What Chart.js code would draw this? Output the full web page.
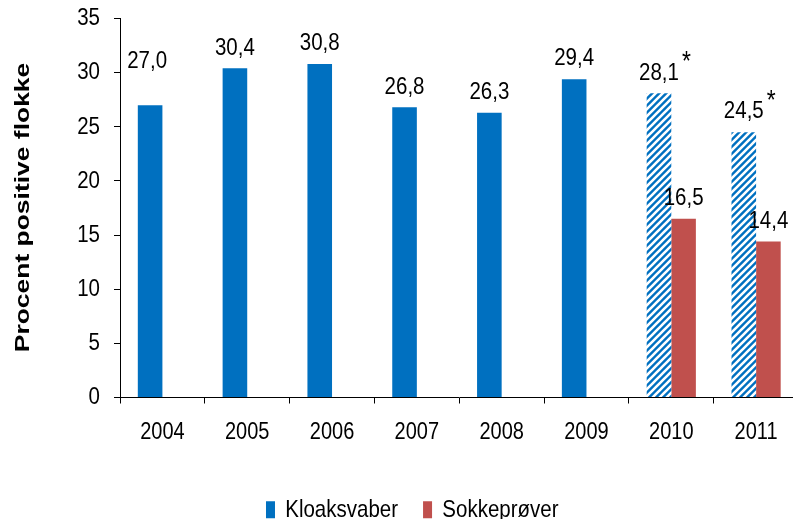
<!DOCTYPE html>
<html><head><meta charset="utf-8">
<script src="https://cdn.jsdelivr.net/npm/chart.js@4"></script>
<style>
html,body{margin:0;padding:0;background:#fff;overflow:hidden;}
#wrap{position:relative;width:793px;height:519px;overflow:hidden;background:#fff;}
canvas{position:absolute;left:0;top:0;}
</style></head><body>
<div id="wrap"><canvas id="c" width="825" height="540"></canvas></div>
<script>
const years = ['2004','2005','2006','2007','2008','2009','2010','2011'];
const kloaksvaber = [27.0, 30.4, 30.8, 26.8, 26.3, 29.4, 28.1, 24.5];
const sokkeprover = [null, null, null, null, null, null, 16.5, 14.4];
const kloakNotes = ['', '', '', '', '', '', '*', '*'];
const seriesNames = ['Kloaksvaber', 'Sokkeprøver'];
const yTitle = 'Procent positive flokke';
const yMin = 0, yMax = 35, yStep = 5;

const FONT = '"Liberation Sans", Arial, sans-serif';
const BLUE = '#0070C0', RED = '#C0504D';
const STRETCH = 1.2;   // reference text is drawn taller than wide

function makeHatch(){
  const s = 7, c = document.createElement('canvas');
  c.width = c.height = s;
  const g = c.getContext('2d');
  g.fillStyle = BLUE; g.fillRect(0,0,s,s);
  g.strokeStyle = '#fff'; g.lineWidth = 2.6;
  g.beginPath();
  g.moveTo(-2,2); g.lineTo(2,-2);
  g.moveTo(0,s); g.lineTo(s,0);
  g.moveTo(s-2,s+2); g.lineTo(s+2,s-2);
  g.stroke();
  return g.createPattern(c,'repeat');
}
const hatch = makeHatch();

const valueLabels = {
  id: 'valueLabels',
  afterDatasetsDraw(chart){
    const ctx = chart.ctx;
    ctx.save();
    ctx.fillStyle = '#000';
    ctx.textBaseline = 'middle';
    chart.data.datasets.forEach((ds, di) => {
      const meta = chart.getDatasetMeta(di);
      meta.data.forEach((bar, i) => {
        const v = ds.data[i];
        if (v == null) return;
        const txt = v.toFixed(1).replace('.', ',');
        const first = (di === 0 && i === 0);
        const y = bar.y - 20.5 - (first ? 23 : 0);
        const x = bar.x - (first ? 3 : 0);
        ctx.font = '20.5px ' + FONT;
        ctx.textAlign = 'center';
        ctx.fillText(txt, x, y);
        const note = di === 0 ? kloakNotes[i] : '';
        if (note) {
          const w = ctx.measureText(txt).width;
          ctx.textAlign = 'left';
          ctx.font = '23px ' + FONT;
          ctx.fillText(note, x + w/2 + 3, y - 10);
        }
      });
    });
    ctx.restore();
  }
};

const textStyle = {
  id: 'textStyle',
  beforeDraw(chart){
    const ctx = chart.ctx;
    if (ctx._origFill) return;
    const orig = ctx.fillText;
    ctx._origFill = orig;
    ctx.fillText = function(t, x, y, mw){
      this.save();
      this.translate(x, y);
      this.scale(1, STRETCH);
      if (mw === undefined) orig.call(this, t, 0, 0); else orig.call(this, t, 0, 0, mw);
      this.restore();
    };
  },
  afterDraw(chart){
    const ctx = chart.ctx;
    if (ctx._origFill) { ctx.fillText = ctx._origFill; delete ctx._origFill; }
    // vertical axis title
    ctx.save();
    ctx.translate(29, 207.5);
    ctx.rotate(-Math.PI/2);
    ctx.scale(1.29, 1);
    ctx.font = 'bold 20.5px ' + FONT;
    ctx.fillStyle = '#000';
    ctx.textAlign = 'center';
    ctx.textBaseline = 'alphabetic';
    ctx.fillText(yTitle, 0, 0);
    ctx.restore();
  }
};

new Chart(document.getElementById('c'), {
  type: 'bar',
  data: {
    labels: years,
    datasets: [
      { label: seriesNames[0], data: kloaksvaber,
        backgroundColor: (c) => (c.dataIndex !== undefined && kloakNotes[c.dataIndex]) ? hatch : BLUE,
        borderWidth: 0 },
      { label: seriesNames[1], data: sokkeprover, backgroundColor: RED, borderWidth: 0 }
    ]
  },
  options: {
    responsive: false,
    animation: false,
    devicePixelRatio: 1,
    categoryPercentage: 0.58,
    barPercentage: 1.0,
    layout: { padding: { top: 18.5, right: 26.5, left: 26, bottom: 10 } },
    plugins: {
      legend: {
        position: 'bottom',
        labels: { boxWidth: 9, boxHeight: 17, color: '#000', padding: 25,
                  font: { size: 20.5, family: FONT } }
      },
      tooltip: { enabled: false },
      title: { display: false }
    },
    scales: {
      x: {
        ticks: { color: '#000', padding: 17, font: { size: 20, family: FONT } },
        grid: { drawOnChartArea: false, drawTicks: true, tickLength: 6, color: '#000', offset: true },
        border: { color: '#000', width: 1 },
        afterFit(s){ s.height = 77; s.paddingLeft = 0; s.paddingRight = 0; }
      },
      y: {
        min: yMin, max: yMax,
        ticks: { stepSize: yStep, color: '#000', padding: 14, font: { size: 20.5, family: FONT } },
        grid: { drawOnChartArea: false, drawTicks: true, tickLength: 6, color: '#000' },
        border: { color: '#000', width: 1 },
        afterFit(s){ s.width = 94; s.paddingTop = 0; s.paddingBottom = 0; }
      }
    }
  },
  plugins: [textStyle, valueLabels]
});
</script>
</body></html>
